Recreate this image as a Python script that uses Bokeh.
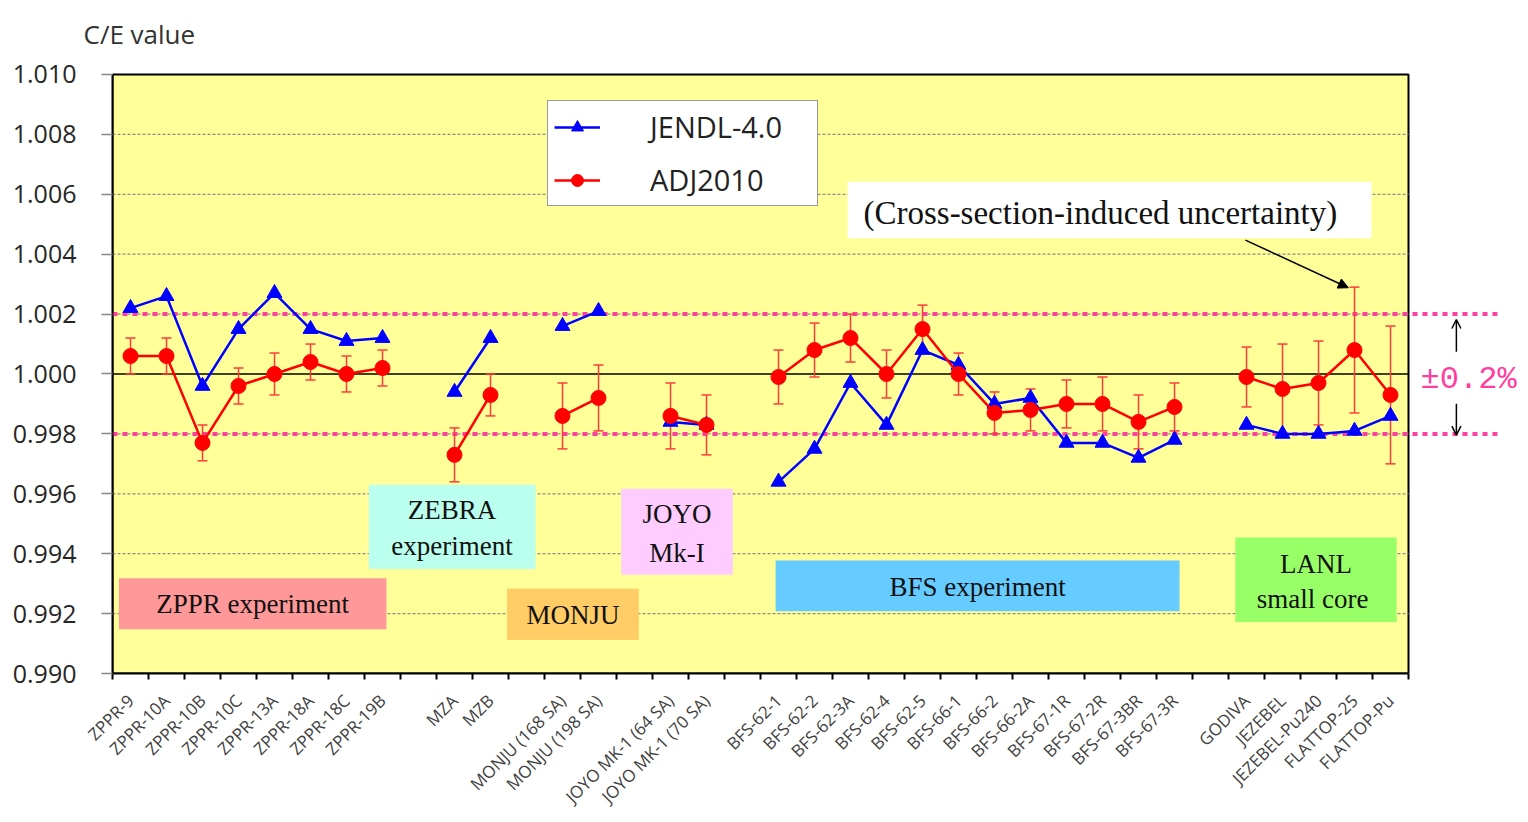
import math
from bokeh.plotting import figure
from bokeh.models import (Range1d, FixedTicker, PrintfTickFormatter, Legend, LegendItem,
                          Arrow, NormalHead, OpenHead, ColumnDataSource)
from bokeh.core.properties import value
from bokeh.embed import file_html
from bokeh.resources import INLINE

# --- data -------------------------------------------------------------------
zppr = ["ZPPR-9", "ZPPR-10A", "ZPPR-10B", "ZPPR-10C", "ZPPR-13A", "ZPPR-18A", "ZPPR-18C", "ZPPR-19B"]
zebra = ["MZA", "MZB"]
monju = ["MONJU (168 SA)", "MONJU (198 SA)"]
joyo = ["JOYO MK-1 (64 SA)", "JOYO MK-1 (70 SA)"]
bfs = ["BFS-62-1", "BFS-62-2", "BFS-62-3A", "BFS-62-4", "BFS-62-5", "BFS-66-1", "BFS-66-2",
       "BFS-66-2A", "BFS-67-1R", "BFS-67-2R", "BFS-67-3BR", "BFS-67-3R"]
lanl = ["GODIVA", "JEZEBEL", "JEZEBEL-Pu240", "FLATTOP-25", "FLATTOP-Pu"]
groups = [zppr, zebra, monju, joyo, bfs, lanl]

jendl40 = [1.0022, 1.0026, 0.9996, 1.0015, 1.0027, 1.0015, 1.0011, 1.0012,
           0.9994, 1.0012,
           1.0016, 1.0021,
           0.9984, 0.9983,
           0.9964, 0.9975, 0.9997, 0.9983, 1.0008, 1.0003, 0.9990, 0.9992,
           0.9977, 0.9977, 0.9972, 0.9978,
           0.9983, 0.9980, 0.9980, 0.9981, 0.9986]
adj2010 = [1.0006, 1.0006, 0.9977, 0.9996, 1.0000, 1.0004, 1.0000, 1.0002,
           0.9973, 0.9993,
           0.9986, 0.9992,
           0.9986, 0.9983,
           0.9999, 1.0008, 1.0012, 1.0000, 1.0015, 1.0000, 0.9987, 0.9988,
           0.9990, 0.9990, 0.9984, 0.9989,
           0.9999, 0.9995, 0.9997, 1.0008, 0.9993]
adj2010_err = [0.0006, 0.0006, 0.0006, 0.0006, 0.0007, 0.0006, 0.0006, 0.0006,
               0.0009, 0.0007,
               0.0011, 0.0011,
               0.0011, 0.0010,
               0.0009, 0.0009, 0.0008, 0.0008, 0.0008, 0.0007, 0.0007, 0.0007,
               0.0008, 0.0009, 0.0009, 0.0008,
               0.0010, 0.0015, 0.0014, 0.0021, 0.0023]

y_ticks = [0.990, 0.992, 0.994, 0.996, 0.998, 1.000, 1.002, 1.004, 1.006, 1.008, 1.010]
band = [0.998, 1.002]   # +-0.2 %

# slot positions, one empty slot between groups
names, xs, spans = [], [], []
slot = 0
for g in groups:
    i0 = len(xs)
    for n in g:
        names.append(n)
        xs.append(slot + 0.5)
        slot += 1
    spans.append((i0, len(xs)))
    slot += 1
n_slots = slot - 1

err_lo = [v - e for v, e in zip(adj2010, adj2010_err)]
err_hi = [v + e for v, e in zip(adj2010, adj2010_err)]
src = ColumnDataSource(dict(x=xs, jendl=jendl40, adj=adj2010, lo=err_lo, hi=err_hi))

# --- figure -----------------------------------------------------------------
p = figure(width=1520, height=818, x_range=Range1d(0, 1408 / 36), y_range=Range1d(0.990, 1.0102),
           output_backend="svg", toolbar_location=None, title="C/E value",
           min_border_left=112, min_border_right=0, min_border_top=67, min_border_bottom=141)
p.outline_line_color = None
p.xgrid.visible = False
p.ygrid.visible = False
p.title.align = "left"
p.title.vertical_align = "top"
p.title.offset = -29
p.title.standoff = 30
p.title.text_font = "Open Sans"
p.title.text_font_size = "26px"
p.title.text_font_style = "normal"
p.title.text_color = "#333333"

# plot area
p.quad(left=[0], right=[n_slots], bottom=[0.990], top=[1.010],
       fill_color="#FFFF99", line_color="black", line_width=2)
grid_y = [t for t in y_ticks if t not in (0.990, 1.000, 1.010)]
p.segment(x0=0, x1=n_slots, y0=grid_y, y1=grid_y, line_color="#8c8c8c", line_width=1.3, line_dash="3 2")
p.line(x=[0, n_slots], y=[1.0, 1.0], line_color="black", line_width=1.5)
p.segment(x0=0, x1=38.47, y0=band, y1=band, line_color="#ff3fa0", line_width=4, line_dash="5 5")

# experiment boxes
boxes = ColumnDataSource(dict(
    left=[0.18, 7.12, 10.96, 14.13, 18.42, 31.19],
    right=[7.61, 11.75, 14.62, 17.23, 29.64, 35.67],
    bottom=[0.99148, 0.99349, 0.99112, 0.99330, 0.99208, 0.99172],
    top=[0.99318, 0.99630, 0.99283, 0.99617, 0.99377, 0.99454],
    color=["#FF9999", "#BBFFEE", "#FFCC66", "#FFCCFF", "#66CCFF", "#99FF66"]))
p.quad(left="left", right="right", bottom="bottom", top="top", source=boxes,
       fill_color="color", line_color=None)
p.text(x=[3.89, 9.43, 9.43, 12.79, 15.68, 15.68, 24.03, 33.43, 33.43],
       y=[0.99232, 0.99547, 0.99426, 0.99195, 0.99531, 0.99404, 0.99288, 0.99365, 0.99249],
       text=["ZPPR experiment", "ZEBRA", "experiment", "MONJU", "JOYO", "Mk-I",
             "BFS experiment", "LANL", "small  core"],
       text_font=value("Liberation Serif"), text_font_size="27px", text_color="#111111",
       text_align="center", text_baseline="middle")

# uncertainty note
p.quad(left=[20.42], right=[34.97], bottom=[1.00453], top=[1.00642], fill_color="white", line_color=None)
p.text(x=[27.44], y=[1.00536], text=["(Cross-section-induced uncertainty)"],
       text_font=value("Liberation Serif"), text_font_size="33px", text_color="#111111",
       text_align="center", text_baseline="middle")
p.add_layout(Arrow(end=NormalHead(size=10, fill_color="black", line_color="black"),
                   x_start=31.47, y_start=1.00447, x_end=34.33, y_end=1.00288,
                   line_color="black", line_width=1.5))

# error bars
p.segment(x0="x", x1="x", y0="lo", y1="hi", source=src, line_color="#ff3b3b", line_width=1.5)
p.scatter(x="x", y="lo", source=src, marker="dash", size=10, line_color="#ff3b3b", line_width=1.5)
p.scatter(x="x", y="hi", source=src, marker="dash", size=10, line_color="#ff3b3b", line_width=1.5)

# series, broken between groups
blue_lines, red_lines = [], []
for i0, i1 in spans:
    s = ColumnDataSource(dict(x=xs[i0:i1], y=jendl40[i0:i1]))
    blue_lines.append(p.line("x", "y", source=s, line_color="#0000FF", line_width=2.5))
blue_pts = p.scatter("x", "jendl", source=src, marker="triangle", size=15,
                     fill_color="#0000FF", line_color="#0000FF")
for i0, i1 in spans:
    s = ColumnDataSource(dict(x=xs[i0:i1], y=adj2010[i0:i1]))
    red_lines.append(p.line("x", "y", source=s, line_color="#FF0000", line_width=2.5))
red_pts = p.scatter("x", "adj", source=src, marker="circle", size=15,
                    fill_color="#FF0000", line_color="#FF0000")

# +-0.2 % marker on the right
p.text(x=[37.67], y=[0.99983], text=["±0.2%"], text_font=value("Liberation Mono"),
       text_font_size="32px", text_color="#ff3fa0", text_align="center", text_baseline="middle")
p.add_layout(Arrow(end=OpenHead(size=9, line_width=1.5), x_start=37.33, y_start=1.00074,
                   x_end=37.33, y_end=1.00182, line_width=1.5))
p.add_layout(Arrow(end=OpenHead(size=9, line_width=1.5), x_start=37.33, y_start=0.99901,
                   x_end=37.33, y_end=0.99796, line_width=1.5))

# legend
legend = Legend(items=[LegendItem(label="JENDL-4.0", renderers=[blue_lines[0], blue_pts]),
                       LegendItem(label="ADJ2010", renderers=[red_lines[0], red_pts])],
                location=(435, 467), padding=6, spacing=14, margin=0,
                glyph_width=46, glyph_height=30, label_height=30, label_standoff=50, label_width=161,
                label_text_font="Open Sans", label_text_font_size="29px", label_text_color="#222222",
                border_line_color="#333333", border_line_width=1.5,
                background_fill_color="white", background_fill_alpha=1.0)
p.add_layout(legend)

# axes
xaxis = p.below[0]
xaxis.ticker = FixedTicker(ticks=xs, minor_ticks=list(range(n_slots + 1)))
xaxis.major_label_overrides = {x: n for x, n in zip(xs, names)}
xaxis.major_label_orientation = math.pi / 4
xaxis.bounds = (0, n_slots)
xaxis.axis_line_color = "black"
xaxis.axis_line_width = 2
xaxis.major_tick_in = 0
xaxis.major_tick_out = 0
xaxis.minor_tick_in = 0
xaxis.minor_tick_out = 6
xaxis.minor_tick_line_color = "black"
xaxis.minor_tick_line_width = 2
xaxis.major_label_text_font = "Open Sans"
xaxis.major_label_text_font_size = "17px"
xaxis.major_label_text_color = "#404040"
xaxis.major_label_standoff = 18

p.yaxis.ticker = FixedTicker(ticks=y_ticks, minor_ticks=[])
p.yaxis.formatter = PrintfTickFormatter(format="%.3f")
p.yaxis.bounds = (0.990, 1.010)
p.yaxis.axis_line_color = "black"
p.yaxis.axis_line_width = 2
p.yaxis.major_tick_in = 0
p.yaxis.major_tick_out = 11
p.yaxis.major_tick_line_color = "#888888"
p.yaxis.major_tick_line_width = 1.5
p.yaxis.major_label_text_font = "Open Sans"
p.yaxis.major_label_text_font_size = "25px"
p.yaxis.major_label_text_color = "#262626"
p.yaxis.major_label_standoff = 25

open("out.html", "w").write(file_html(p, INLINE))
